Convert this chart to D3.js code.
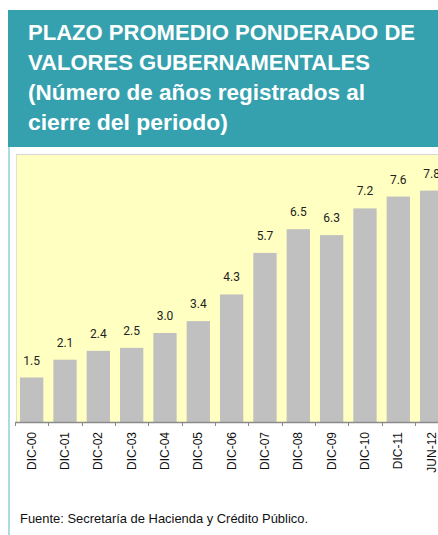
<!DOCTYPE html>
<html>
<head>
<meta charset="utf-8">
<script src="https://cdn.jsdelivr.net/npm/d3@7"></script>
<style>
  body { margin: 0; background: #fff; }
  svg { display: block; }
</style>
</head>
<body>
<div id="chart"></div>
<script>
const categories = ['DIC-00', 'DIC-01', 'DIC-02', 'DIC-03', 'DIC-04', 'DIC-05', 'DIC-06',
  'DIC-07', 'DIC-08', 'DIC-09', 'DIC-10', 'DIC-11', 'JUN-12'];
const values = [1.5, 2.1, 2.4, 2.5, 3.0, 3.4, 4.3, 5.7, 6.5, 6.3, 7.2, 7.6, 7.8];
const titleLines = ['PLAZO PROMEDIO PONDERADO DE', 'VALORES GUBERNAMENTALES',
  '(Número de años registrados al', 'cierre del periodo)'];
const titleWidths = [387, 342, 337, 200];
const source = 'Fuente: Secretaría de Hacienda y Crédito Público.';

const W = 438, H = 535;
const svg = d3.select('#chart').append('svg').attr('width', W).attr('height', H);

// header band
svg.append('rect').attr('x', 8).attr('y', 10).attr('width', W - 8).attr('height', 137).attr('fill', '#36a1ae');
svg.append('rect').attr('x', 8).attr('y', 147).attr('width', 2).attr('height', H - 147).attr('fill', '#acdbe3');

const narrow = '"Liberation Sans Narrow", "Arial Narrow", "Liberation Sans", Arial, sans-serif';
svg.append('g')
  .selectAll('text')
  .data(titleLines)
  .enter()
  .append('text')
  .attr('x', 28)
  .attr('y', (d, i) => 40 + i * 30)
  .attr('textLength', (d, i) => titleWidths[i])
  .attr('lengthAdjust', 'spacingAndGlyphs')
  .attr('fill', '#fff')
  .attr('font-family', narrow)
  .attr('font-weight', 'bold')
  .attr('font-size', 22)
  .text(d => d);

// plot area
const plot = { l: 15, t: 155, b: 422 };
svg.append('rect').attr('x', 16).attr('y', plot.t).attr('width', W - 16).attr('height', plot.b - plot.t)
  .attr('fill', '#ffffc1');
svg.append('line').attr('x1', 16).attr('x2', W).attr('y1', plot.t - 0.5).attr('y2', plot.t - 0.5)
  .attr('stroke', '#d6d6d6');
svg.append('line').attr('x1', 16.5).attr('x2', 16.5).attr('y1', plot.t).attr('y2', plot.b)
  .attr('stroke', '#e2e2c8');

const step = 33.33;
const x = d3.scaleBand().domain(categories)
  .range([plot.l, plot.l + step * categories.length]).paddingInner(0.3).paddingOuter(0.15);
const y = d3.scaleLinear().domain([0, 9]).range([plot.b, plot.t]);

svg.append('g')
  .selectAll('rect')
  .data(values)
  .enter()
  .append('rect')
  .attr('x', (d, i) => x(categories[i]))
  .attr('y', d => y(d))
  .attr('width', x.bandwidth())
  .attr('height', d => plot.b - y(d))
  .attr('fill', '#c0c0c0');

svg.append('g')
  .selectAll('text')
  .data(values)
  .enter()
  .append('text')
  .attr('x', (d, i) => x(categories[i]) + x.bandwidth() / 2)
  .attr('y', d => y(d) - 13)
  .attr('text-anchor', 'middle')
  .attr('font-family', 'Roboto, "Liberation Sans", Arial, sans-serif')
  .attr('font-size', 12)
  .attr('fill', '#222')
  .text(d => d.toFixed(1));

// x axis: ticks on band edges
const edges = d3.range(categories.length + 1).map(i => plot.l + i * step);
const ax = svg.append('g');
ax.append('line').attr('x1', plot.l).attr('x2', W).attr('y1', plot.b + 0.5).attr('y2', plot.b + 0.5)
  .attr('stroke', '#8a8a8a').attr('stroke-width', 1.5);
ax.selectAll('line.tick')
  .data(edges)
  .enter()
  .append('line')
  .attr('class', 'tick')
  .attr('x1', d => Math.round(d) + 0.5)
  .attr('x2', d => Math.round(d) + 0.5)
  .attr('y1', plot.b)
  .attr('y2', plot.b + 4)
  .attr('stroke', '#8a8a8a');
ax.selectAll('text')
  .data(categories)
  .enter()
  .append('text')
  .attr('transform', d => `translate(${x(d) + x.bandwidth() / 2 + 4},${plot.b + 10}) rotate(-90)`)
  .attr('text-anchor', 'end')
  .attr('font-family', '"Liberation Sans", Arial, sans-serif')
  .attr('font-size', 12)
  .attr('fill', '#111')
  .text(d => d);

svg.append('text')
  .attr('x', 20)
  .attr('y', 523)
  .attr('textLength', 288)
  .attr('lengthAdjust', 'spacingAndGlyphs')
  .attr('font-family', narrow)
  .attr('font-size', 13)
  .attr('fill', '#111')
  .text(source);
</script>
</body>
</html>
